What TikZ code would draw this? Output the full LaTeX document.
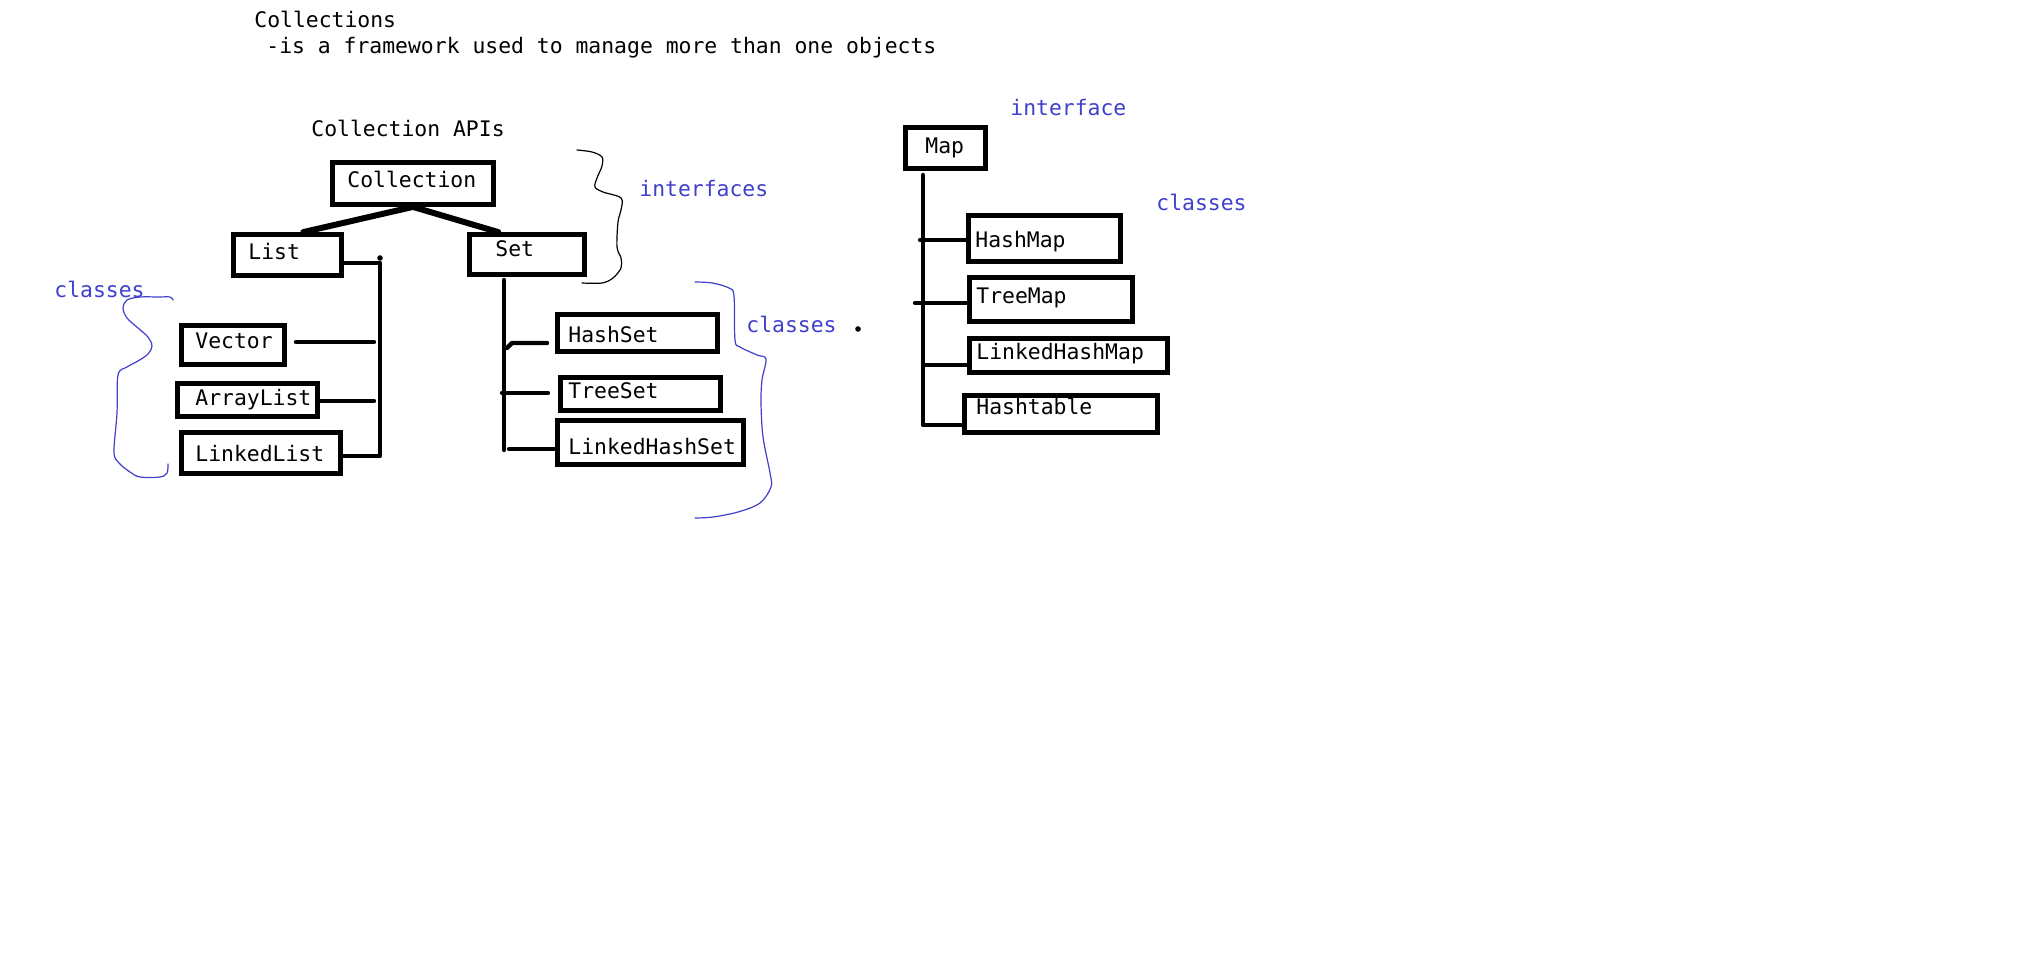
\documentclass[tikz,border=0pt]{standalone}
\usepackage{fontspec}
\setmainfont{DejaVu Sans Mono}
\usetikzlibrary{calc}
\definecolor{hand}{RGB}{64,64,204}
\begin{document}
\begin{tikzpicture}[x=0.5pt,y=-0.5pt,
  box/.style 2 args={draw, line width=2.4pt, inner sep=0pt, minimum width=#1*0.5pt, minimum height=#2*0.5pt},
  txt/.style={anchor=base west, inner sep=0pt, font=\fontsize{10.7pt}{12pt}\selectfont},
  bluetxt/.style={txt, text=hand},
  conn/.style={line width=2.2pt, line cap=round, line join=round},
  thickconn/.style={line width=3pt, line cap=round, line join=round},
  dotmark/.style={circle, fill, inner sep=0pt, minimum size=2.8pt},
  brace/.style={line width=0.6pt, line cap=round, line join=round},
]
\useasboundingbox (0,0) rectangle (2022,978);
\fill[white] (0,0) rectangle (2022,978);

% header texts
\node[txt] (title) at (254,28) {Collections};
\node[txt] (subtitle) at (266,54) {-is a framework used to manage more than one objects};
\node[txt] (apis) at (311,137) {Collection APIs};

% boxes
\node[box={161}{42}] (coll) at (413,183.5) {};
\node[box={108}{41}] (list) at (287.5,255) {};
\node[box={115}{40}] (set) at (527,254.5) {};
\node[box={103}{39}] (vector) at (233,345) {};
\node[box={140}{33}] (arrl) at (247.5,400) {};
\node[box={159}{41}] (lnkl) at (261,453) {};
\node[box={160}{37}] (hset) at (637.5,333) {};
\node[box={160}{33}] (tset) at (640.5,394) {};
\node[box={186}{44}] (lhset) at (650.5,442.5) {};
\node[box={80}{41}] (map) at (945.5,148) {};
\node[box={152}{46}] (hmap) at (1044.5,238.5) {};
\node[box={163}{44}] (tmap) at (1051,299.5) {};
\node[box={198}{34}] (lhmap) at (1068.5,355.5) {};
\node[box={193}{37}] (htab) at (1061,414) {};

% box texts
\node[txt] (colltxt) at (347,188) {Collection};
\node[txt] (listtxt) at (248,260) {List};
\node[txt] (settxt) at (495,257) {Set};
\node[txt] (vectortxt) at (195,349) {Vector};
\node[txt] (arrltxt) at (195,406) {ArrayList};
\node[txt] (lnkltxt) at (195,461) {LinkedList};
\node[txt] (hsettxt) at (568,343) {HashSet};
\node[txt] (tsettxt) at (568,399) {TreeSet};
\node[txt] (lhsettxt) at (568,454) {LinkedHashSet};
\node[txt] (maptxt) at (925,154) {Map};
\node[txt] (hmaptxt) at (975,248) {HashMap};
\node[txt] (tmaptxt) at (976,304) {TreeMap};
\node[txt] (lhmaptxt) at (976,360) {LinkedHashMap};
\node[txt] (htabtxt) at (976,415) {Hashtable};

% blue labels
\node[bluetxt] (lbint) at (639,197) {interfaces};
\node[bluetxt] (lbcl1) at (54,298) {classes};
\node[bluetxt] (lbcl2) at (746,333) {classes};
\node[bluetxt] (lbmint) at (1010,116) {interface};
\node[bluetxt] (lbcl3) at (1156,211) {classes};

% Collection -> List, Set
\draw[thickconn] (coll.south) -- ($(list.north west)!0.64!(list.north east)$);
\draw[thickconn] (coll.south) -- ($(set.north west)!0.26!(set.north east)$);

% List spine
\coordinate (ls1) at (380,263);
\coordinate (ls2) at (380,456);
\draw[conn] (list.east |- ls1) -- (ls1) -- (ls2) -- (lnkl.east |- ls2);
\node[dotmark] (ldot) at (380,258) {};
\coordinate (vecA) at (296,342);
\coordinate (vecB) at (374,342);
\draw[conn] (vecA) -- (vecB);
\coordinate (arrB) at (374,401);
\draw[conn] (arrl.east |- arrB) -- (arrB);

% Set spine
\coordinate (ss1) at (504,280);
\coordinate (ss2) at (504,450);
\draw[conn] (ss1) -- (ss2);
\coordinate (hsA) at (507,348);
\coordinate (hsB) at (512,343);
\coordinate (hsC) at (547,343);
\draw[conn] (hsA) -- (hsB) -- (hsC);
\coordinate (tsA) at (502,393);
\coordinate (tsB) at (548,393);
\draw[conn] (tsA) -- (tsB);
\coordinate (lhsA) at (509,449);
\draw[conn] (lhsA) -- (lhset.west |- lhsA);

% Map spine
\coordinate (ms1) at (923,175);
\coordinate (ms2) at (923,425);
\draw[conn] (ms1) -- (ms2) -- (htab.west |- ms2);
\coordinate (hmA) at (920,240);
\draw[conn] (hmA) -- (hmap.west |- hmA);
\coordinate (tmA) at (915,303);
\draw[conn] (tmA) -- (tmap.west |- tmA);
\coordinate (lhmA) at (923,365);
\draw[conn] (lhmA) -- (lhmap.west |- lhmA);
\node[dotmark] (mdot) at (858,329) {};

% hand-drawn braces
\draw[brace, black] plot[smooth, tension=0.55] coordinates {(577,150) (592,152) (602,157) (602,166) (597,178) (595,187) (603,192) (621,198) (621,210) (618,222) (617,247) (621,258) (621,268) (613,278) (602,283) (582,283)};
\draw[brace, hand] plot[smooth, tension=0.55] coordinates {(173,300) (170,297) (158,297) (140,297) (127,300) (123,308) (127,318) (138,328) (148,337) (152,346) (148,354) (138,361) (127,367) (118,375) (117,413) (114,452) (119,463) (130,472) (140,477) (160,477) (167,473) (168,464)};
\draw[brace, hand] plot[smooth, tension=0.55] coordinates {(695,282) (712,283) (729,288) (734,296) (735,340) (740,347) (757,355) (766,359) (762,380) (761,403) (763,437) (770,473) (771,487) (760,503) (738,512) (713,517) (695,518)};
\end{tikzpicture}
\end{document}
